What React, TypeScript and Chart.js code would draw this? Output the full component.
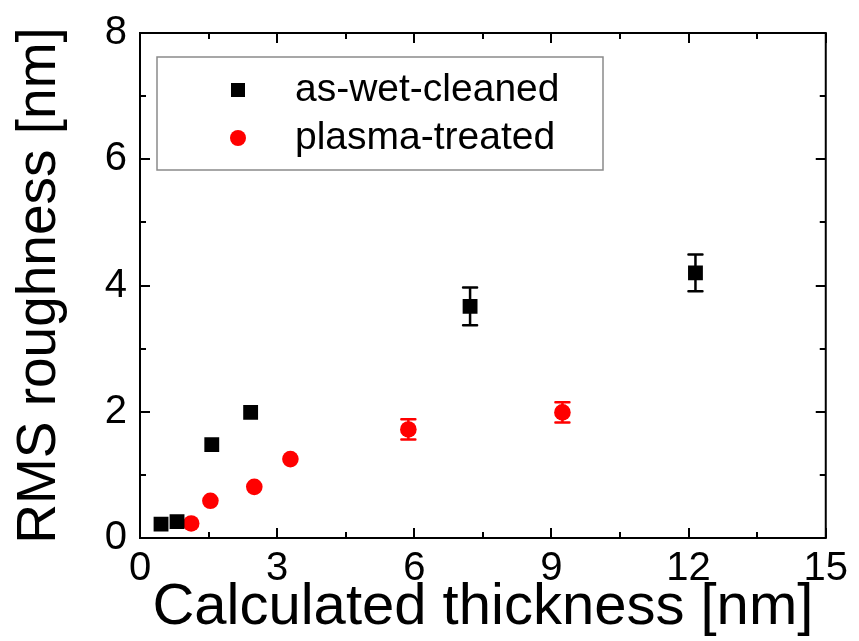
import React, { useEffect, useRef } from "react";
import { Chart, registerables } from "chart.js";

Chart.register(...registerables);

const wetX = [0.46, 0.81, 1.57, 2.42, 7.22, 12.15];
const wetY = [0.22, 0.26, 1.48, 1.99, 3.67, 4.2];
const wetErr = [0, 0, 0, 0, 0.3, 0.29];

const plasmaX = [1.12, 1.54, 2.5, 3.29, 5.87, 9.24];
const plasmaY = [0.23, 0.59, 0.81, 1.25, 1.72, 1.99];
const plasmaErr = [0, 0, 0, 0, 0.16, 0.16];

const xMajorTicks = [0, 3, 6, 9, 12, 15];
const xMinorTicks = [1.5, 4.5, 7.5, 10.5, 13.5];
const yMajorTicks = [0, 2, 4, 6, 8];
const yMinorTicks = [1, 3, 5, 7];

const seriesLabels = ["as-wet-cleaned", "plasma-treated"];
const xTitle = "Calculated thickness [nm]";
const yTitle = "RMS roughness [nm]";

const FONT = "'Liberation Sans', Arial, Helvetica, sans-serif";

const errorBarPlugin = {
  id: "errorBars",
  afterDatasetsDraw(chart: any) {
    const ctx = chart.ctx;
    const xs = chart.scales.x;
    const ys = chart.scales.y;
    chart.data.datasets.forEach((ds: any) => {
      const errs: number[] = ds.errors || [];
      ctx.save();
      ctx.strokeStyle = ds.errColor;
      ctx.lineWidth = 2.5;
      ctx.lineCap = "round";
      ds.data.forEach((p: any, i: number) => {
        const e = errs[i] || 0;
        if (!e) return;
        const px = xs.getPixelForValue(p.x);
        const top = ys.getPixelForValue(p.y + e);
        const bot = ys.getPixelForValue(p.y - e);
        const cw = 7;
        ctx.beginPath();
        ctx.moveTo(px, top);
        ctx.lineTo(px, bot);
        ctx.moveTo(px - cw, top);
        ctx.lineTo(px + cw, top);
        ctx.moveTo(px - cw, bot);
        ctx.lineTo(px + cw, bot);
        ctx.stroke();
      });
      ctx.restore();
    });
  },
};

const framePlugin = {
  id: "frame",
  beforeDatasetsDraw(chart: any) {
    const ctx = chart.ctx;
    const { left, right, top, bottom } = chart.chartArea;
    const xs = chart.scales.x;
    const ys = chart.scales.y;
    ctx.save();
    ctx.strokeStyle = "#000";
    ctx.lineWidth = 2;
    ctx.strokeRect(left, top, right - left, bottom - top);
    const drawX = (vals: number[], len: number) => {
      vals.forEach((v) => {
        const px = Math.round(xs.getPixelForValue(v));
        ctx.beginPath();
        ctx.moveTo(px, bottom);
        ctx.lineTo(px, bottom - len);
        ctx.moveTo(px, top);
        ctx.lineTo(px, top + len);
        ctx.stroke();
      });
    };
    const drawY = (vals: number[], len: number) => {
      vals.forEach((v) => {
        const py = Math.round(ys.getPixelForValue(v));
        ctx.beginPath();
        ctx.moveTo(left, py);
        ctx.lineTo(left + len, py);
        ctx.moveTo(right, py);
        ctx.lineTo(right - len, py);
        ctx.stroke();
      });
    };
    drawX(xMajorTicks, 10);
    drawX(xMinorTicks, 6);
    drawY(yMajorTicks, 10);
    drawY(yMinorTicks, 6);
    ctx.restore();
  },
};

const legendPlugin = {
  id: "insideLegend",
  afterDraw(chart: any) {
    const ctx = chart.ctx;
    const { left, top } = chart.chartArea;
    const bx = left + 17;
    const by = top + 24;
    const bw = 446;
    const bh = 113;
    ctx.save();
    ctx.strokeStyle = "#8a8a8a";
    ctx.lineWidth = 1.5;
    ctx.strokeRect(bx, by, bw, bh);
    const rows = [by + 33, by + 81];
    chart.data.datasets.forEach((ds: any, i: number) => {
      const cy = rows[i];
      const cx = bx + 81;
      ctx.fillStyle = ds.backgroundColor;
      if (ds.pointStyle === "rect") {
        ctx.fillRect(cx - 7, cy - 7, 14, 14);
      } else {
        ctx.beginPath();
        ctx.arc(cx, cy, 8, 0, Math.PI * 2);
        ctx.fill();
      }
      ctx.fillStyle = "#000";
      ctx.font = `39px ${FONT}`;
      ctx.textBaseline = "middle";
      ctx.textAlign = "left";
      ctx.fillText(ds.label, bx + 138, cy);
    });
    ctx.restore();
  },
};

export default function App() {
  const ref = useRef<HTMLCanvasElement | null>(null);
  useEffect(() => {
    document.body.style.margin = "0";
    if (!ref.current) return;
    const chart = new Chart(ref.current, {
      type: "scatter",
      data: {
        datasets: [
          {
            label: seriesLabels[0],
            data: wetX.map((x, i) => ({ x, y: wetY[i] })),
            errors: wetErr,
            errColor: "#000",
            backgroundColor: "#000",
            borderColor: "#000",
            borderWidth: 0,
            pointStyle: "rect",
            pointRadius: 10.5,
            pointHoverRadius: 10.5,
          } as any,
          {
            label: seriesLabels[1],
            data: plasmaX.map((x, i) => ({ x, y: plasmaY[i] })),
            errors: plasmaErr,
            errColor: "#ff0000",
            backgroundColor: "#ff0000",
            borderColor: "#ff0000",
            borderWidth: 0,
            pointStyle: "circle",
            pointRadius: 8.3,
            pointHoverRadius: 8.3,
          } as any,
        ],
      },
      options: {
        animation: false,
        responsive: false,
        devicePixelRatio: 1,
        layout: { padding: { top: 33, right: 30, left: 0, bottom: 0 } },
        plugins: {
          legend: { display: false },
          tooltip: { enabled: false },
        },
        scales: {
          x: {
            type: "linear",
            min: 0,
            max: 15,
            afterFit: (s: any) => {
              s.height = 103;
            },
            afterBuildTicks: (s: any) => {
              s.ticks = xMajorTicks.map((v) => ({ value: v }));
            },
            ticks: {
              color: "#000",
              font: { family: FONT, size: 40, lineHeight: 1 },
              padding: 11,
              maxRotation: 0,
            },
            grid: { display: false, drawTicks: false },
            border: { display: false },
            title: {
              display: true,
              text: xTitle,
              color: "#000",
              font: { family: FONT, size: 58, lineHeight: 1 },
              padding: { top: 0, bottom: 4 },
            },
          },
          y: {
            type: "linear",
            min: 0,
            max: 8,
            afterFit: (s: any) => {
              s.width = 140;
            },
            afterBuildTicks: (s: any) => {
              s.ticks = yMajorTicks.map((v) => ({ value: v }));
            },
            ticks: {
              color: "#000",
              font: { family: FONT, size: 40, lineHeight: 1 },
              padding: 13,
            },
            grid: { display: false, drawTicks: false },
            border: { display: false },
            title: {
              display: true,
              text: yTitle,
              color: "#000",
              font: { family: FONT, size: 55, lineHeight: 1 },
              padding: { top: 12, bottom: 0 },
            },
          },
        },
      } as any,
      plugins: [framePlugin, errorBarPlugin, legendPlugin],
    });
    return () => chart.destroy();
  }, []);
  return (
    <div style={{ width: 859, height: 641, background: "#fff" }}>
      <canvas ref={ref} width={859} height={641} />
    </div>
  );
}
